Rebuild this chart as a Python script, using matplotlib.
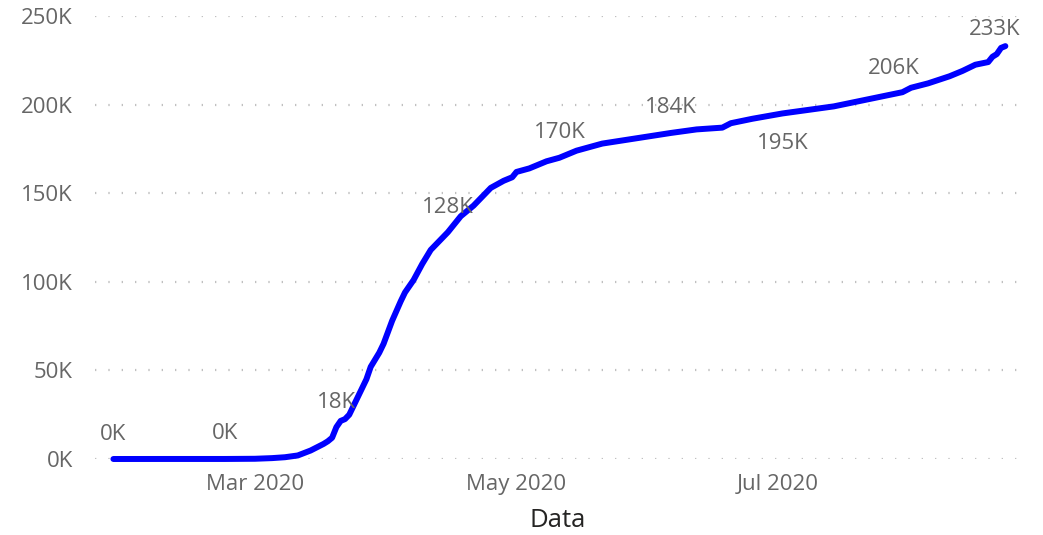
import numpy as np
import matplotlib
matplotlib.use("Agg")
import matplotlib.pyplot as plt

# Cumulative cases (thousands)
dates = [
    "2020-01-28", "2020-02-10", "2020-02-23", "2020-03-01", "2020-03-05",
    "2020-03-08", "2020-03-11", "2020-03-14", "2020-03-17", "2020-03-18",
    "2020-03-19", "2020-03-20", "2020-03-21", "2020-03-22", "2020-03-23",
    "2020-03-24", "2020-03-26", "2020-03-27", "2020-03-28", "2020-03-30",
    "2020-03-31", "2020-04-02", "2020-04-04", "2020-04-05", "2020-04-07",
    "2020-04-09", "2020-04-11", "2020-04-13", "2020-04-15", "2020-04-18",
    "2020-04-21", "2020-04-23", "2020-04-25", "2020-04-28", "2020-04-30",
    "2020-05-01", "2020-05-04", "2020-05-08", "2020-05-11", "2020-05-15",
    "2020-05-21", "2020-05-29", "2020-06-06", "2020-06-12", "2020-06-18",
    "2020-06-20", "2020-06-25", "2020-07-02", "2020-07-08", "2020-07-14",
    "2020-07-22", "2020-07-28", "2020-07-30", "2020-08-01", "2020-08-05",
    "2020-08-10", "2020-08-13", "2020-08-16", "2020-08-19", "2020-08-20",
    "2020-08-21", "2020-08-22", "2020-08-23",
]
cases_k = [
    0.0, 0.02, 0.02, 0.13, 0.5,
    1.0, 2.0, 4.8, 8.5, 10.0,
    12.0, 18.0, 21.5, 22.5, 25.0,
    30.0, 40.0, 45.0, 52.0, 60.0,
    65.0, 78.0, 89.0, 94.0, 101.0,
    110.0, 118.0, 123.0, 128.0, 137.0,
    143.0, 148.0, 153.0, 157.0, 159.0,
    162.0, 164.0, 168.0, 170.0, 174.0,
    178.0, 181.0, 184.0, 186.0, 187.0,
    189.5, 192.0, 195.0, 197.0, 199.0,
    203.0, 206.0, 207.0, 209.5, 212.0,
    216.0, 219.0, 222.5, 224.0, 227.0,
    228.5, 232.0, 233.0,
]

label_dates = ["2020-01-28", "2020-02-23", "2020-03-20", "2020-04-15", "2020-05-11",
               "2020-06-06", "2020-07-02", "2020-07-28", "2020-08-23"]
below_labels = ["2020-07-02"]

tick_dates = ["2020-03-01", "2020-05-01", "2020-07-01"]
tick_labels = ["Mar 2020", "May 2020", "Jul 2020"]
y_ticks = [0, 50, 100, 150, 200, 250]

plt.rcParams["font.family"] = ["Open Sans", "DejaVu Sans"]

x = np.array(dates, dtype="datetime64[D]")
y = np.array(cases_k) * 1000

fig = plt.figure(figsize=(10.43, 5.35), dpi=100)
ax = fig.add_axes([95 / 1043, 76 / 535, 925 / 1043, 443 / 535])

ax.plot(x, y, color="#0000ff", lw=4.3, solid_capstyle="round",
        solid_joinstyle="round", clip_on=False, zorder=3)

# data labels (last one is pushed inside the right edge, like Power BI does)
for d in label_dates:
    i = dates.index(d)
    txt = f"{round(cases_k[i]):.0f}K"
    if d in below_labels:
        off, ha = (0, -30), "center"
    elif d == label_dates[-1]:
        off, ha = (15, 17), "right"
    else:
        off, ha = (0, 25), "center"
    ax.annotate(txt, (x[i], y[i]), xytext=off, textcoords="offset pixels",
                ha=ha, va="center", fontsize=16, color="#666666")

ax.set_xlim(np.datetime64("2020-01-23T17"), np.datetime64("2020-08-26T10"))
ax.set_ylim(0, 250000)

ax.set_xticks(np.array(tick_dates, dtype="datetime64[D]"))
ax.set_xticklabels(tick_labels)
ax.set_yticks([v * 1000 for v in y_ticks])
ax.set_yticklabels([f"{v}K" for v in y_ticks])

ax.tick_params(axis="both", length=0, labelsize=16, labelcolor="#666666")
ax.tick_params(axis="x", pad=11)
ax.tick_params(axis="y", pad=16)

ax.grid(axis="y", color="#c0c0c0", linestyle=(0, (0.6, 5.4)), linewidth=1.6)
ax.grid(axis="x", visible=False)
for s in ax.spines.values():
    s.set_visible(False)

ax.set_xlabel("Data", fontsize=18.5, color="#252423", labelpad=9)

fig.savefig("out.png", dpi=100)
